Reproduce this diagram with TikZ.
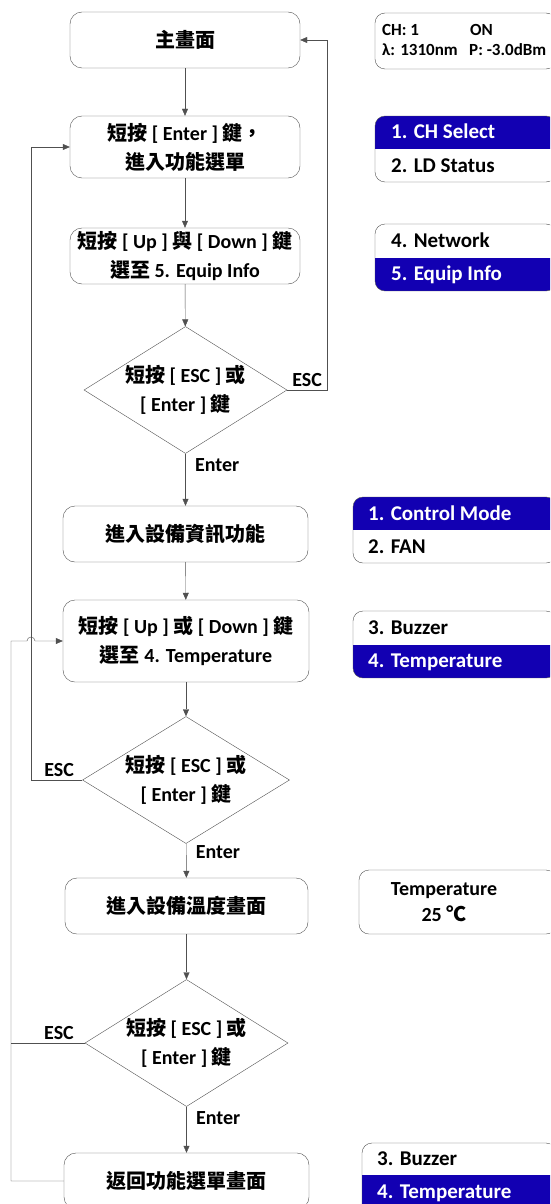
\documentclass[tikz,border=0pt]{standalone}
\usepackage{fontspec}
\setmainfont{Carlito}
\newfontfamily\cjk{Noto Sans CJK TC}
\usetikzlibrary{shapes.geometric,arrows.meta}
\newcommand{\zh}[1]{{\cjk #1}}
\definecolor{menublue}{RGB}{18,0,178}
\definecolor{linegray}{RGB}{80,80,80}

\begin{document}
\begin{tikzpicture}[x=1pt,y=-1pt,
  every node/.style={font=\fontsize{20}{29}\selectfont\bfseries},
  stepbox/.style={draw=linegray,rounded corners=12pt,minimum width=230pt,
    minimum height=56pt,align=center,inner sep=0pt},
  choice/.style={draw=linegray,diamond,aspect=1.6,inner sep=0pt,
    minimum width=203pt,minimum height=127pt,align=center},
  lcd/.style={draw=linegray,rounded corners=10pt},
  row/.style={anchor=west,inner sep=0pt,text height=13pt,text depth=0pt,
    font=\fontsize{21}{25}\selectfont\bfseries},
  arr/.style={draw=linegray,-{Triangle[length=7pt,width=6pt]}},
  line/.style={draw=linegray},
  yes/.style={right,xshift=6pt}]
\useasboundingbox (0,0) rectangle (550,1204);
\clip (0,0) rectangle (550,1204);

% flow
\node[stepbox] (home) at (185,40) {\zh{主畫面}};
\node[stepbox,minimum height=62pt] (menu) at (185,147)
  {\zh{短按} [ Enter ] \zh{鍵，}\\\zh{進入功能選單}};
\node[stepbox] (pick1) at (185,256)
  {\zh{短按} [ Up ] \zh{與} [ Down ] \zh{鍵}\\\zh{選至} 5. Equip Info};
\node[choice] (ask1) at (185.5,390) {\zh{短按} [ ESC ] \zh{或}\\{}[ Enter ] \zh{鍵}};
\node[stepbox,minimum width=245pt] (info) at (185.5,534) {\zh{進入設備資訊功能}};
\node[stepbox,minimum width=246pt,minimum height=82pt] (pick2) at (186,641)
  {\zh{短按} [ Up ] \zh{或} [ Down ] \zh{鍵}\\\zh{選至} 4. Temperature};
\node[choice,minimum width=207pt] (ask2) at (186,780) {\zh{短按} [ ESC ] \zh{或}\\{}[ Enter ] \zh{鍵}};
\node[stepbox,minimum width=243pt] (temp) at (186.5,906) {\zh{進入設備溫度畫面}};
\node[choice] (ask3) at (186.5,1043) {\zh{短按} [ ESC ] \zh{或}\\{}[ Enter ] \zh{鍵}};
\node[stepbox,minimum width=245pt] (back) at (186.5,1181) {\zh{返回功能選單畫面}};

\draw[arr] (home) -- (menu);
\draw[arr] (menu) -- (pick1);
\draw[arr] (pick1) -- (ask1);
\draw[arr] (ask1) -- node[yes,pos=0.22]{Enter} (info);
\draw[arr] (ask1.east) -- node[above]{ESC} (327,390) |- (home.east);
\draw[arr] (info) -- (pick2);
\draw[arr] (pick2) -- (ask2);
\draw[arr] (ask2) -- node[yes,pos=0.25]{Enter} (temp);
\draw[arr] (ask2.west) -- node[above,pos=0.45]{ESC} (31,780) |- (menu.west);
\draw[arr] (temp) -- (ask3);
\draw[arr] (ask3) -- node[yes,pos=0.25]{Enter} (back);
\draw[line] (ask3.west) -- node[above,pos=0.35]{ESC} (11,1043);
\draw[arr] (back.west) -- (11,1181) -- (11,641) -- (27,641)
  arc[start angle=180,end angle=0,radius=4pt] -- (pick2.west);

% screens
\draw[lcd] (375,13) rectangle (556,69);
\begin{scope}[every node/.style={anchor=base west,inner sep=0pt,
    font=\fontsize{17}{20}\selectfont\bfseries}]
\node (ch) at (382,36) {CH: 1};
\node (on) at (470,36) {ON};
\node (wl) at (382,56) {λ: 1310nm};
\node (pw) at (469,56) {P: -3.0dBm};
\end{scope}

\begin{scope}
\clip[rounded corners=10pt] (375,116) rectangle (556,182);
\fill[menublue] (375,116) rectangle (556,149);
\end{scope}
\draw[lcd] (375,116) rectangle (556,182);
\node[row,text=white] (m1) at (391,132.5) {1. CH Select};
\node[row] (m2) at (391,165.5) {2. LD Status};

\begin{scope}
\clip[rounded corners=10pt] (375,224) rectangle (556,291);
\fill[menublue] (375,257.5) rectangle (556,291);
\end{scope}
\draw[lcd] (375,224) rectangle (556,291);
\node[row] (m4) at (391,241) {4. Network};
\node[row,text=white] (m5) at (391,274) {5. Equip Info};

\begin{scope}
\clip[rounded corners=10pt] (353,497) rectangle (556,563);
\fill[menublue] (353,497) rectangle (556,530);
\end{scope}
\draw[lcd] (353,497) rectangle (556,563);
\node[row,text=white] (e1) at (368,513.5) {1. Control Mode};
\node[row] (e2) at (368,546.5) {2. FAN};

\begin{scope}
\clip[rounded corners=10pt] (353,611) rectangle (556,678);
\fill[menublue] (353,644.5) rectangle (556,678);
\end{scope}
\draw[lcd] (353,611) rectangle (556,678);
\node[row] (e3) at (368,628) {3. Buzzer};
\node[row,text=white] (e4) at (368,661) {4. Temperature};

\draw[lcd] (359,870) rectangle (556,934);
\node[align=center,font=\fontsize{20}{26}\selectfont\bfseries] (tv) at (444,902)
  {Temperature\\25 \zh{℃}};

\begin{scope}
\clip[rounded corners=10pt] (362,1143) rectangle (556,1215);
\fill[menublue] (362,1175) rectangle (556,1215);
\end{scope}
\draw[lcd] (362,1143) rectangle (556,1215);
\node[row] (r3) at (377,1159) {3. Buzzer};
\node[row,text=white] (r4) at (377,1192) {4. Temperature};
\end{tikzpicture}
\end{document}
